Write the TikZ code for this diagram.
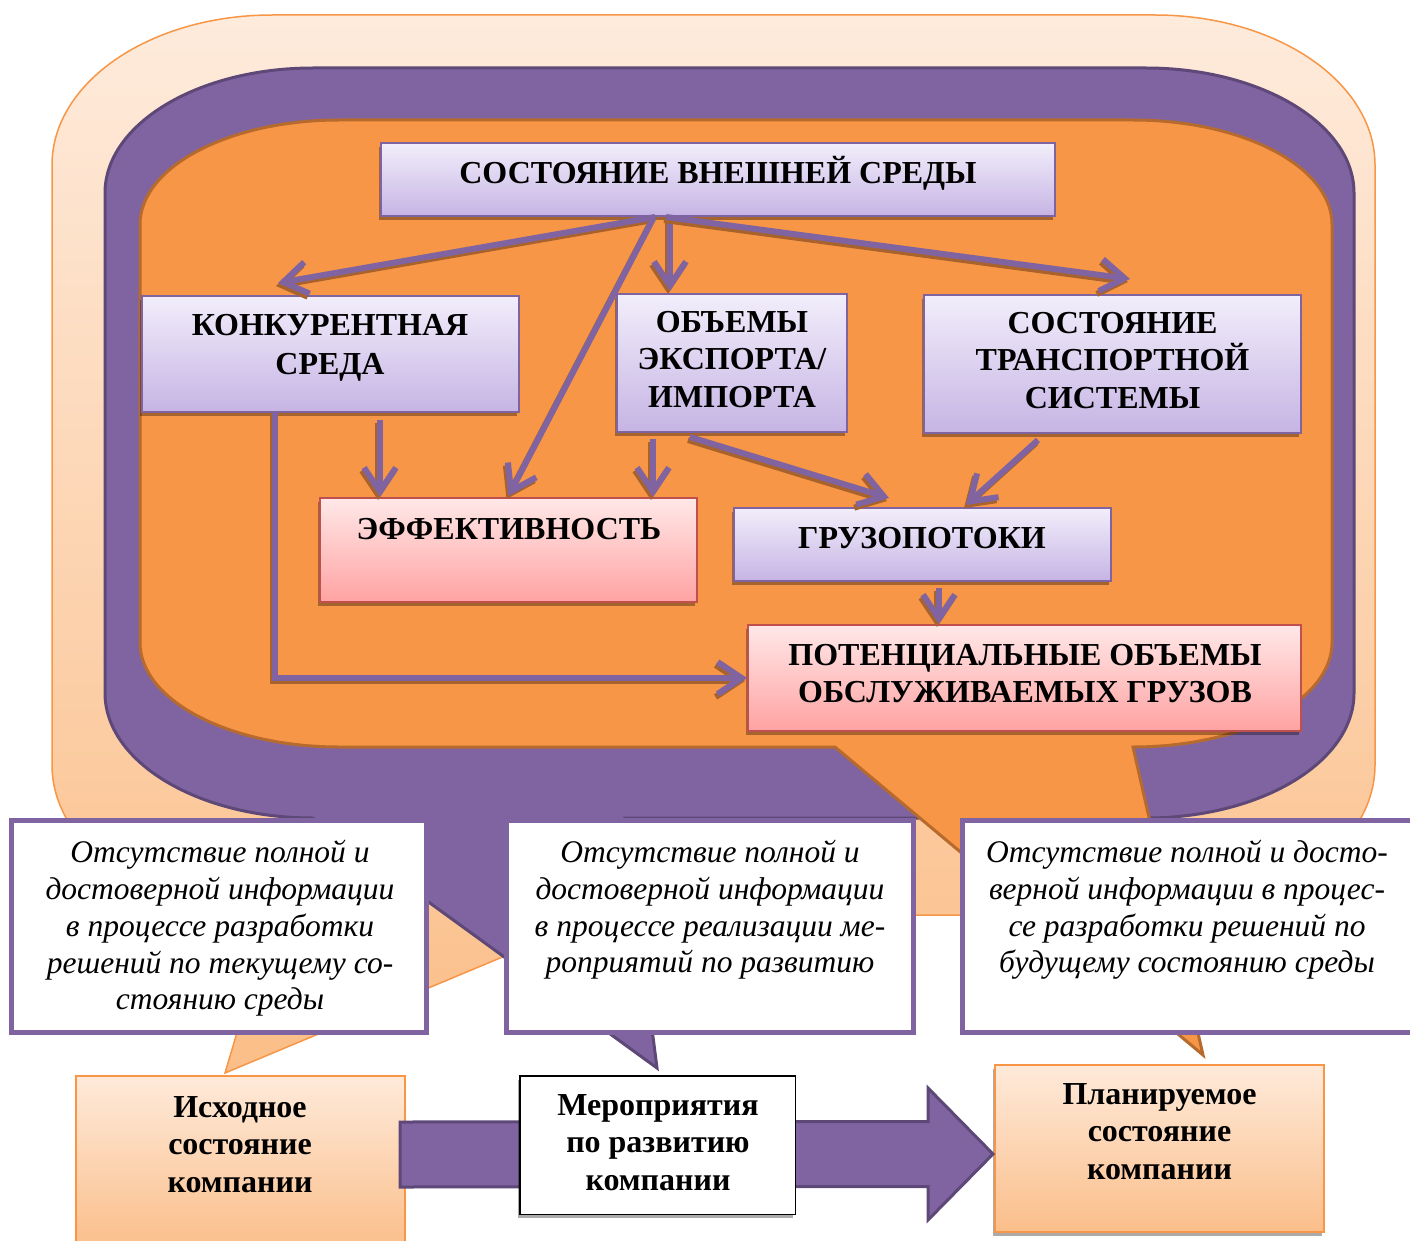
\documentclass[tikz,border=0pt]{standalone}
\usepackage{fontspec}
\setmainfont{Liberation Serif}
\usetikzlibrary{arrows.meta,shadows,calc}
\definecolor{lorTop}{RGB}{254,235,220}
\definecolor{lorBot}{RGB}{251,190,136}
\definecolor{orln}{RGB}{247,150,70}
\definecolor{purp}{RGB}{128,100,162}
\definecolor{dpurp}{RGB}{93,72,120}
\definecolor{oran}{RGB}{247,150,70}
\definecolor{brownb}{RGB}{182,106,45}
\definecolor{shadowc}{RGB}{168,98,44}
\definecolor{lavT}{RGB}{242,238,251}
\definecolor{lavB}{RGB}{198,180,228}
\definecolor{pinkT}{RGB}{255,232,232}
\definecolor{pinkB}{RGB}{255,162,162}
\definecolor{pinkln}{RGB}{192,80,77}
\definecolor{pchT}{RGB}{254,234,218}
\definecolor{pchB}{RGB}{251,190,138}
\begin{document}
\begin{tikzpicture}[x=1pt,y=-1pt,
  bshadow/.style={drop shadow={shadow xshift=-2pt,shadow yshift=-4pt,fill=black,opacity=0.33}},
  lbox/.style={draw=purp,line width=2pt,top color=lavT,bottom color=lavB,inner sep=0pt,bshadow},
  pbox/.style={draw=pinkln,line width=2pt,top color=pinkT,bottom color=pinkB,inner sep=0pt,bshadow},
  cbox/.style={draw=purp,line width=5pt,fill=white,inner sep=0pt},
  obox/.style={draw=orln,line width=2pt,top color=pchT,bottom color=pchB,inner sep=0pt},
  wbox/.style={draw=black,line width=1.5pt,fill=white,inner sep=0pt},
  tipA/.style={-{Straight Barb[length=24pt,width=32pt]}},
  arr/.style={line width=6pt,tipA,draw=purp,
    preaction={draw=shadowc,line width=6pt,tipA,transform canvas={shift={(-2pt,-3pt)}}}},
  barrow/.style={fill=purp,draw=dpurp,line width=3pt,line join=miter},
  capt/.style={font=\fontsize{32}{#1}\selectfont\bfseries,align=center,inner sep=0pt,
    execute at begin node=\strut,execute at end node=\strut},
  capt/.default=38,
  ital/.style={font=\fontsize{31.5}{36.7}\selectfont\itshape,align=center,inner sep=0pt,
    execute at begin node=\strut,execute at end node=\strut},
  lowb/.style={font=\fontsize{32}{37.5}\selectfont\bfseries,align=center,inner sep=0pt,
    execute at begin node=\strut,execute at end node=\strut}
]
\path[use as bounding box] (0,0) rectangle (1410,1241);
\clip (0,0) rectangle (1410,1241);

% outer light orange callout
\draw[orln,line width=1.5pt,top color=lorTop,bottom color=lorBot]
 (52,165) .. controls (52,82.2) and (150.5,15) .. (272,15)
 -- (1155,15) .. controls (1276.5,15) and (1375,82.2) .. (1375,165)
 -- (1375,765) .. controls (1375,847.8) and (1276.5,915) .. (1155,915)
 -- (603,915) -- (225,1073) -- (272,915)
 .. controls (150.5,915) and (52,847.8) .. (52,765) -- cycle;

% purple callout
\draw[fill=purp,draw=dpurp,line width=3pt]
 (105,193) .. controls (105,124) and (198.1,68) .. (313,68)
 -- (1146,68) .. controls (1260.9,68) and (1354,124) .. (1354,193)
 -- (1354,693) .. controls (1354,762) and (1260.9,818) .. (1146,818)
 -- (625,818) -- (657,1068) -- (313,818)
 .. controls (198.1,818) and (105,762) .. (105,693) -- cycle;

% orange callout
\draw[fill=oran,draw=brownb,line width=3pt]
 (140,224.5) .. controls (140,166.8) and (229.1,120) .. (339,120)
 -- (1133,120) .. controls (1242.9,120) and (1332,166.8) .. (1332,224.5)
 -- (1332,642.5) .. controls (1332,700.2) and (1242.9,747) .. (1133,747)
 -- (1203,1055) -- (835,747) -- (339,747)
 .. controls (229.1,747) and (140,700.2) .. (140,642.5) -- cycle;

% boxes
\node[lbox,minimum width=674pt,minimum height=73pt] (env) at (718,179.5) {};
\node[lbox,minimum width=377pt,minimum height=116pt] (comp) at (330.5,354) {};
\node[lbox,minimum width=230pt,minimum height=138pt] (vol) at (732,363) {};
\node[lbox,minimum width=377pt,minimum height=138pt] (trans) at (1112.5,364) {};
\node[pbox,minimum width=377pt,minimum height=104pt] (eff) at (508.5,550) {};
\node[lbox,minimum width=377pt,minimum height=73pt] (flow) at (922.5,544.5) {};
\node[pbox,minimum width=553pt,minimum height=106pt] (pot) at (1024.5,678) {};

\node[capt] (envT) at (718,175.9) {СОСТОЯНИЕ ВНЕШНЕЙ СРЕДЫ};
\node[capt=39] (compT) at (330,350.7) {КОНКУРЕНТНАЯ\\СРЕДА};
\node[capt=37.5] (volT) at (732,365) {ОБЪЕМЫ\\ЭКСПОРТА/\\ИМПОРТА};
\node[capt=37.5] (transT) at (1112.5,366) {СОСТОЯНИЕ\\ТРАНСПОРТНОЙ\\СИСТЕМЫ};
\node[capt] (effT) at (509,531.4) {ЭФФЕКТИВНОСТЬ};
\node[capt] (flowT) at (922,540.4) {ГРУЗОПОТОКИ};
\node[capt=37] (potT) at (1025,678.6) {ПОТЕНЦИАЛЬНЫЕ ОБЪЕМЫ\\ОБСЛУЖИВАЕМЫХ ГРУЗОВ};

% connectors
\coordinate (e0) at ([xshift=49.5pt,yshift=-7pt]comp.south);
\coordinate (f0) at ([xshift=-79pt,yshift=-6pt]vol.south);
\coordinate (i0) at ([xshift=16.5pt,yshift=-6pt]flow.south);
\draw[arr] ([xshift=-63pt]env.south) -- ([xshift=-52.5pt,yshift=12pt]comp.north);
\draw[arr] ([xshift=-48pt]env.south) -- ([xshift=-62pt,yshift=2pt]vol.north);
\draw[arr] ([xshift=-64pt]env.south) -- ([yshift=1pt]eff.north);
\draw[arr] ([xshift=-52pt]env.south) -- ([xshift=17.5pt,yshift=15pt]trans.north);
\draw[arr] (e0) -- (e0 |- eff.north);
\draw[arr] (f0) -- (f0 |- eff.north);
\draw[arr] ([xshift=-42pt,yshift=-4pt]vol.south) -- ([xshift=-33.5pt,yshift=9pt]flow.north);
\draw[arr] ([xshift=-74.5pt,yshift=-6pt]trans.south) -- ([xshift=43.5pt,yshift=2pt]flow.north);
\draw[arr] (i0) -- (i0 |- pot.north);
\draw[arr] ([xshift=-55.5pt]comp.south) |- (pot.west);

% text callouts
\node[cbox,minimum width=415pt,minimum height=212pt] (c1) at (219,926.5) {};
\node[cbox,minimum width=407pt,minimum height=212pt] (c2) at (710,926.5) {};
\node[cbox,minimum width=455pt,minimum height=212pt] (c3) at (1190,926.5) {};
\node[ital] (c1T) at (220,930.6) {Отсутствие полной и\\достоверной информации\\в процессе разработки\\решений по текущему со-\\стоянию среды};
\node[ital] (c2T) at (710,912.2) {Отсутствие полной и\\достоверной информации\\в процессе реализации ме-\\роприятий по развитию};
\node[ital] (c3T) at (1187,912.2) {Отсутствие полной и досто-\\верной информации в процес-\\се разработки решений по\\будущему состоянию среды};

% bottom row
\node[obox,minimum width=329pt,minimum height=173pt] (init) at (240.5,1162.5) {};
\node[obox,bshadow,minimum width=329pt,minimum height=167pt] (plan) at (1159.5,1148.5) {};
\coordinate (bS) at ($(init.east)+(-6,-8)$);
\coordinate (bT) at ($(plan.west)+(-1,5.5)$);
\draw[barrow] ($(bS)+(0,-32.5)$) -- ($(bT)+(-65,-32.5)$) -- ($(bT)+(-65,-66)$) -- (bT)
  -- ($(bT)+(-65,66)$) -- ($(bT)+(-65,32.5)$) -- ($(bS)+(0,32.5)$) -- cycle;
\node[wbox,bshadow,minimum width=275.5pt,minimum height=138.5pt] (act) at (657.5,1145) {};
\node[lowb] (initT) at (240,1150) {Исходное\\состояние\\компании};
\node[lowb] (actT) at (658,1148) {Мероприятия\\по развитию\\компании};
\node[lowb] (planT) at (1159.5,1137) {Планируемое\\состояние\\компании};
\end{tikzpicture}
\end{document}
